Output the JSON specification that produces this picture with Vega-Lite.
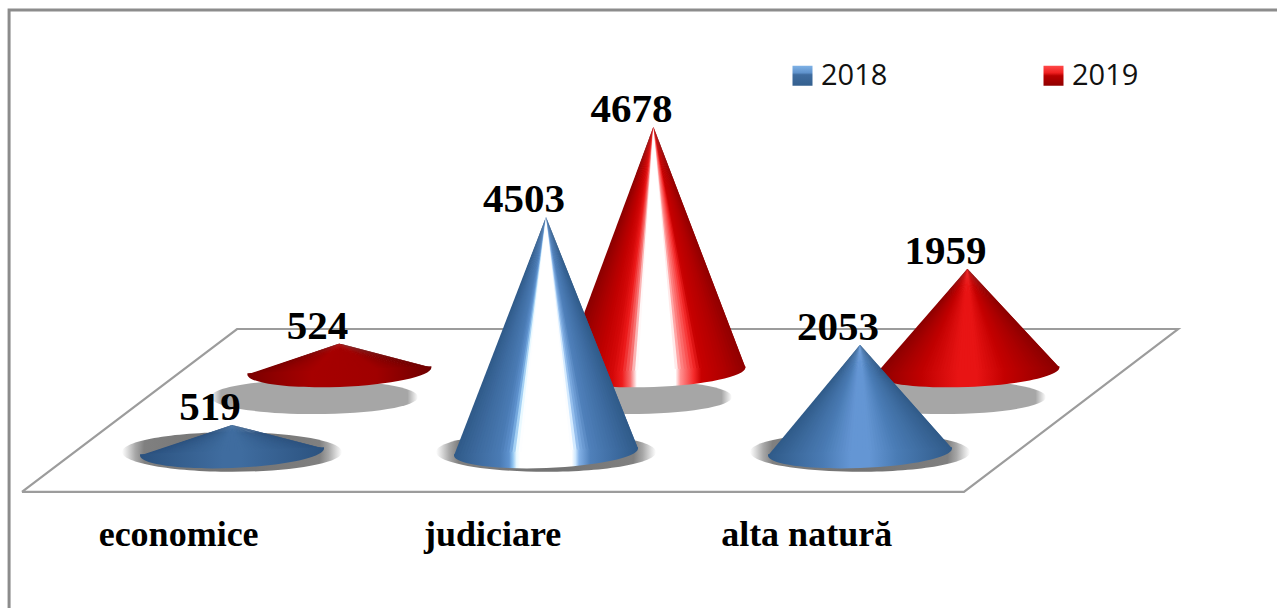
{
"$schema":"https://vega.github.io/schema/vega-lite/v6.json",
"width":1277,"height":608,"padding":0,"autosize":{"type":"none"},
"background":"white","view":{"stroke":null},
"params":[
{"name":"gBlueLow","expr":"{gradient:'linear',x1:0,y1:0,x2:1,y2:0,stops:[{offset:0,color:'#2b527f'},{offset:0.45,color:'#3f6c9f'},{offset:0.55,color:'#3f6c9f'},{offset:1,color:'#2b527f'}]}"},
{"name":"gBlueTall","expr":"{gradient:'linear',x1:0,y1:0,x2:1,y2:0,stops:[{offset:0,color:'#2f5a88'},{offset:0.12,color:'#3d6a9e'},{offset:0.25,color:'#4a7bb4'},{offset:0.3,color:'#5f93cf'},{offset:0.32,color:'#8fc4f0'},{offset:0.34,color:'#e8f8ff'},{offset:0.36,color:'#ffffff'},{offset:0.64,color:'#ffffff'},{offset:0.66,color:'#cfe8ff'},{offset:0.68,color:'#82b0e6'},{offset:0.74,color:'#4f80ba'},{offset:0.88,color:'#3d6ba0'},{offset:1,color:'#2f5a88'}]}"},
{"name":"gBlueMid","expr":"{gradient:'linear',x1:0,y1:0,x2:1,y2:0,stops:[{offset:0,color:'#2f5a88'},{offset:0.3,color:'#4a7bb4'},{offset:0.45,color:'#6496d4'},{offset:0.55,color:'#6496d4'},{offset:0.7,color:'#4a7cb5'},{offset:1,color:'#305a88'}]}"},
{"name":"gRedLow","expr":"{gradient:'linear',x1:0,y1:0,x2:1,y2:0,stops:[{offset:0,color:'#7a0000'},{offset:0.15,color:'#8f0000'},{offset:0.35,color:'#a60000'},{offset:0.7,color:'#a00000'},{offset:1,color:'#6e0000'}]}"},
{"name":"gRedTall","expr":"{gradient:'linear',x1:0,y1:0,x2:1,y2:0,stops:[{offset:0,color:'#8a0000'},{offset:0.2,color:'#c00000'},{offset:0.28,color:'#d40808'},{offset:0.33,color:'#ee1c1c'},{offset:0.375,color:'#f77070'},{offset:0.41,color:'#ffffff'},{offset:0.62,color:'#ffffff'},{offset:0.647,color:'#ff9090'},{offset:0.72,color:'#f52a2a'},{offset:0.76,color:'#c80000'},{offset:0.88,color:'#b00000'},{offset:1,color:'#8f0000'}]}"},
{"name":"gRedMid","expr":"{gradient:'linear',x1:0,y1:0,x2:1,y2:0,stops:[{offset:0,color:'#8a0000'},{offset:0.25,color:'#c00000'},{offset:0.45,color:'#e81414'},{offset:0.55,color:'#e81414'},{offset:0.7,color:'#c40000'},{offset:1,color:'#8a0000'}]}"},
{"name":"gLegendBlue","expr":"{gradient:'linear',x1:0,y1:0,x2:0,y2:1,stops:[{offset:0,color:'#7fb2e6'},{offset:0.35,color:'#5f92cc'},{offset:0.45,color:'#3f6c9f'},{offset:1,color:'#34608f'}]}"},
{"name":"gLegendRed","expr":"{gradient:'linear',x1:0,y1:0,x2:0,y2:1,stops:[{offset:0,color:'#ff4a4a'},{offset:0.35,color:'#f02020'},{offset:0.5,color:'#b80000'},{offset:1,color:'#900000'}]}"}
],
"datasets":{
"rows":[
{"category":"economice","idx":0,"year":2018,"value":519},
{"category":"economice","idx":0,"year":2019,"value":524},
{"category":"judiciare","idx":1,"year":2018,"value":4503},
{"category":"judiciare","idx":1,"year":2019,"value":4678},
{"category":"alta natură","idx":2,"year":2018,"value":2053},
{"category":"alta natură","idx":2,"year":2019,"value":1959}
],
"plane":[{"x":-0.669,"y":-766,"o":0},{"x":0.016,"y":2356,"o":1},{"x":3.013,"y":2356,"o":2},{"x":2.331,"y":-766,"o":3},{"x":-0.669,"y":-766,"o":4}],
"frame":[{"x":-0.71,"y":-2989,"o":0},{"x":-0.71,"y":8467,"o":1},{"x":3.328,"y":8467,"o":2}]
},
"data":{"name":"rows"},
"transform":[
{"calculate":"datum.idx+(datum.year==2019?0.342:0)","as":"xc"},
{"calculate":"datum.year==2019?1552:0","as":"yb"},
{"calculate":"datum.category+' '+datum.year","as":"id"},
{"calculate":"''+datum.year","as":"yr"}
],
"encoding":{
"x":{"field":"x","type":"quantitative","axis":null,"stack":null,"scale":{"domain":[-0.7389,3.328],"nice":false,"zero":false}},
"y":{"field":"y","type":"quantitative","axis":null,"stack":null,"scale":{"domain":[-2989,8659],"nice":false,"zero":false}}
},
"layer":[
{"data":{"name":"frame"},"transform":[],"mark":{"type":"line","stroke":"#8c8c8c","strokeWidth":3},"encoding":{"order":{"field":"o"}}},
{"data":{"name":"plane"},"transform":[],"mark":{"type":"line","stroke":"#9c9c9c","strokeWidth":2.2},"encoding":{"order":{"field":"o"}}},
{"transform":[{"filter":"datum.year==2019"},{"calculate":"datum.idx+0.262","as":"x"},{"calculate":"1552-498","as":"y"}],
"mark":{"type":"point","filled":true,"opacity":1,"strokeWidth":0,"size":43000,"shape":"M-1,0 A1,0.165 0 1 0 1,0 A1,0.165 0 1 0 -1,0 Z","fill":{"gradient":"radial","x1":0.5,"y1":0.5,"r1":0,"x2":0.5,"y2":0.5,"r2":0.5,"stops":[{"offset":0,"color":"#a6a6a6"},{"offset":0.9,"color":"#a6a6a6"},{"offset":1,"color":"#ffffff"}]}}},
{"transform":[{"filter":"datum.year==2018"},{"calculate":"datum.idx","as":"x"},{"calculate":"0","as":"y"}],
"mark":{"type":"point","filled":true,"opacity":1,"strokeWidth":0,"size":48400,"shape":"M-1,0 A1,0.18 0 1 0 1,0 A1,0.18 0 1 0 -1,0 Z","fill":{"gradient":"radial","x1":0.5,"y1":0.5,"r1":0,"x2":0.5,"y2":0.5,"r2":0.5,"stops":[{"offset":0,"color":"#707070"},{"offset":0.8,"color":"#808080"},{"offset":0.88,"color":"#a8a8a8"},{"offset":0.95,"color":"#dcdcdc"},{"offset":1,"color":"#ffffff"}]}}},
{"transform":[{"filter":"datum.year==2019"},{"calculate":"[0,1,2,3,4,5,6,7,8,9,10,11,12,13,14,15,16,17,18,19,20,21,22,23,24,25,26,27,28,29,30,31,32,33,34,35,36,37,38,39,40,41,42,43,44,45,46,47,48,49,50,51,52,53,54,55,56,57,58,59]","as":"i"},{"flatten":["i"]},{"calculate":"[0,1]","as":"end"},{"flatten":["end"]},
{"calculate":"datum.id+' '+datum.i","as":"slice"},
{"calculate":"datum.idx*2+6+(datum.i+0.5)/60","as":"t"},
{"calculate":"datum.end==1?datum.xc:datum.xc+0.293*(2*datum.i/60-1)","as":"x"},
{"calculate":"datum.end==1?datum.xc:datum.xc+0.293*min(1,2*(datum.i+2)/60-1)","as":"x2"},
{"calculate":"datum.end==1?datum.yb+datum.value:datum.yb+67*(2*(datum.i+0.5)/60-1)","as":"y"}],
"mark":{"type":"area","orient":"horizontal"},
"encoding":{"x2":{"field":"x2"},"detail":{"field":"slice"},"fill":{"field":"t","type":"quantitative","legend":null,"scale":{"interpolate":"rgb","clamp":true,
"domain":[0,0.45,0.55,1, 2,2.12,2.25,2.3,2.32,2.34,2.36,2.64,2.66,2.68,2.74,2.88,3, 4,4.3,4.45,4.55,4.7,5, 6,6.15,6.35,6.7,7, 8,8.2,8.28,8.33,8.375,8.41,8.62,8.647,8.72,8.76,8.88,9, 10,10.25,10.45,10.55,10.7,11],
"range":["#2b527f","#3f6c9f","#3f6c9f","#2b527f","#2f5a88","#3d6a9e","#4a7bb4","#5f93cf","#8fc4f0","#e8f8ff","#ffffff","#ffffff","#cfe8ff","#82b0e6","#4f80ba","#3d6ba0","#2f5a88","#2f5a88","#4a7bb4","#6496d4","#6496d4","#4a7cb5","#305a88","#7a0000","#8f0000","#a60000","#a00000","#6e0000","#8a0000","#c00000","#d40808","#ee1c1c","#f77070","#ffffff","#ffffff","#ff9090","#f52a2a","#c80000","#b00000","#8f0000","#8a0000","#c00000","#e81414","#e81414","#c40000","#8a0000"]}}}},
{"transform":[{"filter":"datum.year==2019"},{"calculate":"datum.xc","as":"x"},{"calculate":"datum.yb","as":"y"}],
"mark":{"type":"point","filled":true,"opacity":1,"strokeWidth":0,"size":33856,"shape":"M-1,0.038 A1,0.174 -2.2 0 0 1,-0.038 L1,-0.052 L-1,0.024 Z"},
"encoding":{"color":{"field":"id","type":"nominal"}}},
{"transform":[{"filter":"datum.year==2018"},{"calculate":"[0,1,2,3,4,5,6,7,8,9,10,11,12,13,14,15,16,17,18,19,20,21,22,23,24,25,26,27,28,29,30,31,32,33,34,35,36,37,38,39,40,41,42,43,44,45,46,47,48,49,50,51,52,53,54,55,56,57,58,59]","as":"i"},{"flatten":["i"]},{"calculate":"[0,1]","as":"end"},{"flatten":["end"]},
{"calculate":"datum.id+' '+datum.i","as":"slice"},
{"calculate":"datum.idx*2+(datum.i+0.5)/60","as":"t"},
{"calculate":"datum.end==1?datum.xc:datum.xc+0.293*(2*datum.i/60-1)","as":"x"},
{"calculate":"datum.end==1?datum.xc:datum.xc+0.293*min(1,2*(datum.i+2)/60-1)","as":"x2"},
{"calculate":"datum.end==1?datum.yb+datum.value:datum.yb+67*(2*(datum.i+0.5)/60-1)","as":"y"}],
"mark":{"type":"area","orient":"horizontal"},
"encoding":{"x2":{"field":"x2"},"detail":{"field":"slice"},"fill":{"field":"t","type":"quantitative","legend":null}}},
{"transform":[{"filter":"datum.year==2018"},{"calculate":"datum.xc","as":"x"},{"calculate":"datum.yb","as":"y"}],
"mark":{"type":"point","filled":true,"opacity":1,"strokeWidth":0,"size":33856,"shape":"M-1,0.038 A1,0.174 -2.2 0 0 1,-0.038 L1,-0.052 L-1,0.024 Z"},
"encoding":{"color":{"field":"id","type":"nominal"}}},
{"transform":[{"calculate":"datum.xc","as":"x"},{"calculate":"datum.yb+datum.value","as":"y"}],
"mark":{"type":"text","font":"Liberation Serif","fontWeight":"bold","fontSize":41,"align":"center","baseline":"alphabetic","dx":-22,"dy":-5,"color":"#000000"},
"encoding":{"text":{"field":"value","type":"quantitative","format":"d"}}},
{"transform":[{"filter":"datum.year==2018"},{"calculate":"datum.idx-0.17","as":"x"},{"calculate":"-1800","as":"y"}],
"mark":{"type":"text","font":"Liberation Serif","fontWeight":"bold","fontSize":36,"align":"center","baseline":"alphabetic","color":"#000000"},
"encoding":{"text":{"field":"category","type":"nominal"}}},
{"transform":[{"calculate":"datum.xc","as":"x"},{"calculate":"datum.yb","as":"y"}],
"mark":{"type":"square","opacity":0,"size":1},
"encoding":{"color":{"field":"yr","type":"nominal","scale":{"domain":["2018","2019","economice 2018","judiciare 2018","alta natură 2018","economice 2019","judiciare 2019","alta natură 2019"],"range":[{"expr":"gLegendBlue"},{"expr":"gLegendRed"},{"expr":"gBlueLow"},{"expr":"gBlueTall"},{"expr":"gBlueMid"},{"expr":"gRedLow"},{"expr":"gRedTall"},{"expr":"gRedMid"}]},
"legend":{"title":null,"values":["2018","2019"],"orient":"none","legendX":788,"legendY":61,"padding":0,"direction":"horizontal","columns":2,"columnPadding":151,"symbolType":"square","symbolSize":400,"symbolOpacity":1,"symbolStrokeWidth":0,"labelFont":"Open Sans","labelFontSize":29,"labelColor":"#111111","labelOffset":4}}}}
]
}
